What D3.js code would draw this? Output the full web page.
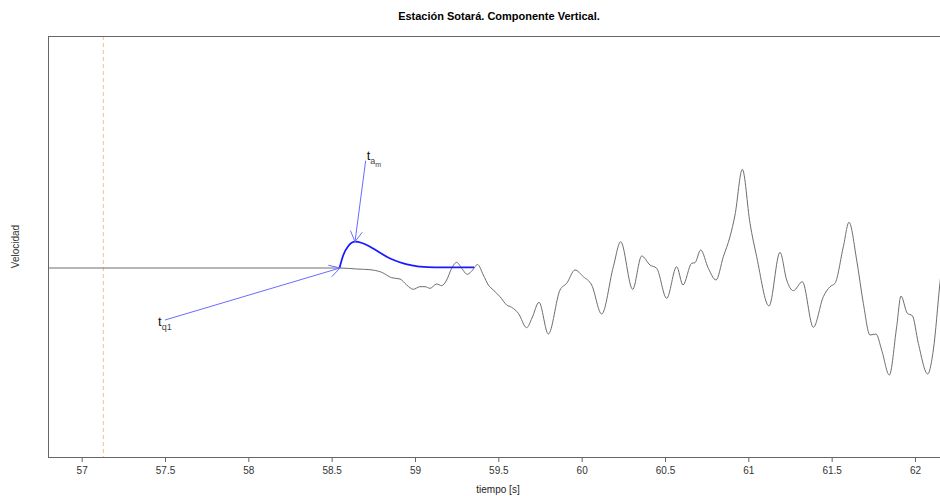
<!DOCTYPE html>
<html>
<head>
<meta charset="utf-8">
<script src="https://cdn.jsdelivr.net/npm/d3@7/dist/d3.min.js"></script>
<style>
  html, body { margin: 0; padding: 0; background: #fff; }
  svg { display: block; font-family: "Liberation Sans", Arial, sans-serif; }
</style>
</head>
<body>
<svg id="chart" width="940" height="496"></svg>
<script>
// Vertical velocity trace (time in seconds, arbitrary velocity units)
const traceTime = [56.80, 58.550, 58.650, 58.730, 58.800, 58.860, 58.910, 58.950, 58.990, 59.030,
  59.060, 59.090, 59.130, 59.160, 59.190, 59.220, 59.250, 59.280, 59.314, 59.346,
  59.375, 59.410, 59.440, 59.470, 59.510, 59.550, 59.580, 59.620, 59.670, 59.702,
  59.744, 59.800, 59.870, 59.910, 59.960, 60.010, 60.060, 60.120, 60.190, 60.234,
  60.306, 60.360, 60.410, 60.450, 60.510, 60.570, 60.608, 60.660, 60.680, 60.714,
  60.760, 60.806, 60.850, 60.890, 60.920, 60.964, 61.010, 61.050, 61.124, 61.190,
  61.230, 61.270, 61.324, 61.390, 61.450, 61.490, 61.520, 61.570, 61.604, 61.650,
  61.690, 61.730, 61.766, 61.800, 61.846, 61.890, 61.916, 61.954, 61.984, 62.020,
  62.076, 62.110, 62.150, 62.180];
const traceVel = [0, 0, -0.010, -0.017, -0.043, -0.097, -0.110, -0.170, -0.213, -0.187,
  -0.187, -0.203, -0.160, -0.177, -0.120, -0.003, 0.057, -0.003, -0.063, -0.020,
  0.035, -0.070, -0.170, -0.220, -0.287, -0.370, -0.393, -0.453, -0.597, -0.500,
  -0.343, -0.660, -0.220, -0.153, -0.020, -0.087, -0.170, -0.460, 0.013, 0.263,
  -0.213, 0.120, 0.030, -0.003, -0.303, 0.013, -0.170, 0.047, 0.053, 0.180,
  -0.003, -0.120, 0.113, 0.313, 0.530, 0.987, 0.447, 0.113, -0.380, 0.157,
  -0.120, -0.227, -0.137, -0.593, -0.287, -0.187, -0.153, 0.213, 0.457, 0.080,
  -0.353, -0.670, -0.660, -0.820, -1.070, -0.587, -0.280, -0.453, -0.477, -0.753,
  -1.060, -0.820, -0.147, 0.300];

// Fitted first-arrival pulse
const pulseTime = [58.547, 58.570, 58.600, 58.640, 58.682, 58.730, 58.778, 58.830, 58.880, 58.930,
  58.982, 59.030, 59.120, 59.354];
const pulseVel = [0, 0.130, 0.220, 0.263, 0.250, 0.213, 0.165, 0.113, 0.075, 0.047,
  0.027, 0.013, 0.007, 0.007];

// Reference time marker
const markerTime = 57.13;

// Picked times: label, label anchor (time, velocity) and arrow target (time, velocity)
const picks = [
  { base: "t", sub: "q1", subsub: "", t0: 57.500, v0: -0.52, t1: 58.550, v1: 0.0,
    lt: 57.458, lv: -0.58 },
  { base: "t", sub: "a", subsub: "m", t0: 58.704, v0: 1.073, t1: 58.640, v1: 0.263,
    lt: 58.710, lv: 1.08 }
];

const xTicks = [57, 57.5, 58, 58.5, 59, 59.5, 60, 60.5, 61, 61.5, 62];

const title = "Estación Sotará. Componente Vertical.";
const xLabel = "tiempo [s]";
const yLabel = "Velocidad";

// Layout
const W = 940, H = 496;
const plot = { left: 48, top: 36, right: 950, bottom: 457 };

const svg = d3.select("#chart");

const x = d3.scaleLinear().domain([57, 62]).range([81.67, 915]);
const y = d3.scaleLinear().domain([-1.89, 2.32]).range([plot.bottom, plot.top]);

svg.append("defs").append("clipPath").attr("id", "plotClip")
  .append("rect")
  .attr("x", plot.left).attr("y", plot.top)
  .attr("width", plot.right - plot.left).attr("height", plot.bottom - plot.top);

// Title
svg.append("text")
  .attr("x", 499).attr("y", 20)
  .attr("text-anchor", "middle")
  .attr("font-size", 11).attr("font-weight", "bold")
  .attr("fill", "#000")
  .text(title);

// Axis titles
svg.append("text")
  .attr("x", 498).attr("y", 493)
  .attr("text-anchor", "middle")
  .attr("font-size", 10).attr("fill", "#222")
  .text(xLabel);

svg.append("text")
  .attr("transform", `translate(19,${(plot.top + plot.bottom) / 2}) rotate(-90)`)
  .attr("text-anchor", "middle")
  .attr("font-size", 10).attr("fill", "#333")
  .text(yLabel);

// Bottom axis
const xAxis = d3.axisBottom(x)
  .tickValues(xTicks)
  .tickSize(5)
  .tickPadding(5)
  .tickFormat(d => String(d));

const gx = svg.append("g")
  .attr("transform", `translate(0,${plot.bottom})`)
  .call(xAxis);
gx.select(".domain").remove();
gx.selectAll(".tick line").attr("stroke", "#666");
gx.selectAll(".tick text")
  .attr("font-size", 10)
  .attr("font-family", "'Liberation Sans', Arial, sans-serif")
  .attr("fill", "#333");

const plotG = svg.append("g").attr("clip-path", "url(#plotClip)");

// Dashed time marker
plotG.append("line")
  .attr("x1", x(markerTime)).attr("x2", x(markerTime))
  .attr("y1", plot.top).attr("y2", plot.bottom)
  .attr("stroke", "#efc58a")
  .attr("stroke-width", 1)
  .attr("stroke-dasharray", "4,3");

// Velocity trace
const traceData = traceTime.map((t, i) => ({ t, v: traceVel[i] }));
const line = d3.line()
  .x(d => x(d.t)).y(d => y(d.v))
  .curve(d3.curveMonotoneX);

plotG.append("path")
  .datum(traceData)
  .attr("d", line)
  .attr("fill", "none")
  .attr("stroke", "#6e6e6e")
  .attr("stroke-width", 1);

// Pulse
const pulseData = pulseTime.map((t, i) => ({ t, v: pulseVel[i] }));
plotG.append("path")
  .datum(pulseData)
  .attr("d", line)
  .attr("fill", "none")
  .attr("stroke", "#1a1aff")
  .attr("stroke-width", 1.8);

// Arrows with open heads
const headLen = 12, headAng = Math.PI / 6;
picks.forEach(p => {
  const xa = x(p.t0), ya = y(p.v0), xb = x(p.t1), yb = y(p.v1);
  const ang = Math.atan2(yb - ya, xb - xa);
  const g = plotG.append("g")
    .attr("stroke", "#6b6bff").attr("stroke-width", 1).attr("fill", "none");
  g.append("line").attr("x1", xa).attr("y1", ya).attr("x2", xb).attr("y2", yb);
  [-1, 1].forEach(s => {
    g.append("line")
      .attr("x1", xb).attr("y1", yb)
      .attr("x2", xb - headLen * Math.cos(ang + s * headAng))
      .attr("y2", yb - headLen * Math.sin(ang + s * headAng));
  });

  const txt = svg.append("text")
    .attr("x", x(p.lt)).attr("y", y(p.lv))
    .attr("font-size", 13).attr("fill", "#111");
  txt.append("tspan").text(p.base);
  txt.append("tspan").attr("dy", 4).attr("font-size", 9).attr("fill", "#444").text(p.sub);
  if (p.subsub) {
    txt.append("tspan").attr("dy", 3).attr("font-size", 7).attr("fill", "#444").text(p.subsub);
  }
});

// Plot frame
svg.append("rect")
  .attr("x", plot.left + 0.5).attr("y", plot.top + 0.5)
  .attr("width", plot.right - plot.left).attr("height", plot.bottom - plot.top)
  .attr("fill", "none").attr("stroke", "#666").attr("stroke-width", 1);
</script>
</body>
</html>
